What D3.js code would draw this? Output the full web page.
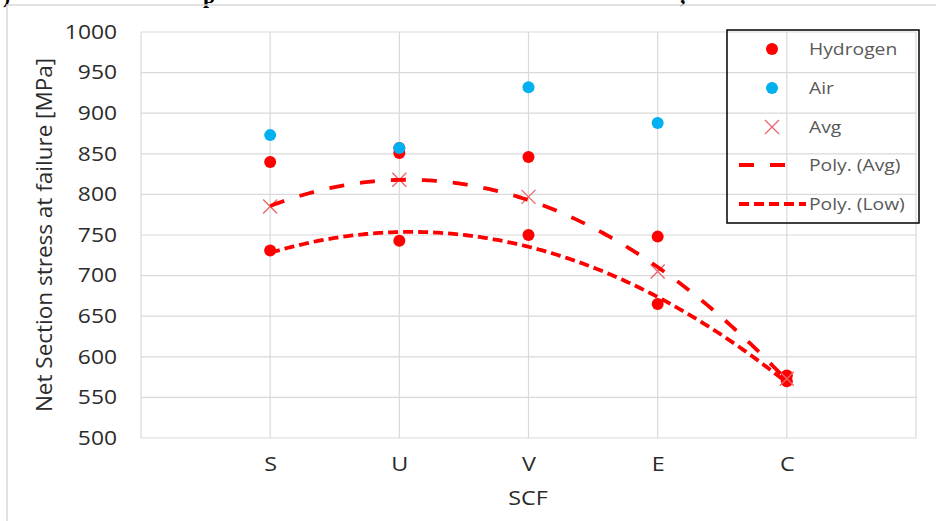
<!DOCTYPE html>
<html>
<head>
<meta charset="utf-8">
<script src="https://cdn.jsdelivr.net/npm/d3@7"></script>
<style>
  html, body { margin: 0; padding: 0; background: #fff; }
  svg { display: block; }
</style>
</head>
<body>
<svg id="chart" width="936" height="521"></svg>
<script>
// ---- data ----
const categories = ["S", "U", "V", "E", "C"];
const yTicks = [500, 550, 600, 650, 700, 750, 800, 850, 900, 950, 1000];
// hydrogen tests, several specimens per notch type
const hydrogen = [
  [840, 731],
  [857, 851, 743],
  [846, 750],
  [748, 665],
  [577, 570]
];
const air = [873, 857, 932, 888];
const avg = [785, 818, 797, 705, 573];

// ---- layout ----
const W = 936, H = 521;
const plot = { left: 141, right: 916, top: 32, bottom: 438 };
const TX = 1.17; // horizontal text stretch
const svg = d3.select("#chart");

const x = d3.scaleLinear().domain([0, 6]).range([plot.left, plot.right]);
const y = d3.scaleLinear().domain([500, 1000]).range([plot.bottom, plot.top]);

function stretch(sel) {
  sel.each(function () {
    const t = d3.select(this);
    const xv = +t.attr("x") || 0;
    t.attr("x", xv / TX).attr("transform", `scale(${TX},1)`);
  });
}

// caption line above the chart, clipped by the page edge
const capFont = "'Liberation Serif', 'DejaVu Serif', serif";
[[")", 3], ["p", 203], [",", 680]].forEach(([ch, px]) => {
  svg.append("text").attr("x", px).attr("y", 2.5)
    .attr("font-family", capFont).attr("font-weight", "bold")
    .attr("font-size", 22).attr("fill", "#000").text(ch);
});

// chart area border
svg.append("rect").attr("x", 7).attr("y", 5)
  .attr("width", W + 20).attr("height", H + 20)
  .attr("fill", "none").attr("stroke", "#d9d9d9").attr("stroke-width", 1.5);

// gridlines
const grid = svg.append("g").attr("stroke", "#d9d9d9").attr("stroke-width", 1.2);
yTicks.forEach(v => {
  grid.append("line").attr("x1", plot.left).attr("x2", plot.right)
    .attr("y1", y(v)).attr("y2", y(v));
});
d3.range(0, 7).forEach(i => {
  grid.append("line").attr("x1", x(i)).attr("x2", x(i))
    .attr("y1", plot.top).attr("y2", plot.bottom);
});

const font = "'Open Sans', 'Noto Sans', sans-serif";
const TXT = "#2b2b2b";

// y axis
const yAxis = svg.append("g").attr("transform", `translate(${plot.left},0)`)
  .call(d3.axisLeft(y).tickValues(yTicks).tickSize(0).tickPadding(24).tickFormat(d3.format("d")));
yAxis.select(".domain").remove();
yAxis.selectAll("text").attr("font-family", font).attr("font-size", 19.5)
  .attr("fill", TXT).call(stretch);

// x axis
const xAxis = svg.append("g").attr("transform", `translate(0,${plot.bottom})`)
  .call(d3.axisBottom(x).tickValues([1, 2, 3, 4, 5]).tickSize(0).tickPadding(19)
    .tickFormat(d => categories[d - 1]));
xAxis.select(".domain").remove();
xAxis.selectAll("text").attr("font-family", font).attr("font-size", 20)
  .attr("fill", TXT).call(stretch);

// axis titles
svg.append("text")
  .attr("transform", `translate(52,235) rotate(-90)`)
  .attr("text-anchor", "middle")
  .attr("font-family", font).attr("font-size", 22.5).attr("fill", TXT)
  .text("Net Section stress at failure [MPa]");
svg.append("text")
  .attr("transform", `translate(528,505) scale(${TX},1)`)
  .attr("text-anchor", "middle")
  .attr("font-family", font).attr("font-size", 20).attr("fill", TXT)
  .text("SCF");

// ---- markers ----
const RED = "#ff0000", BLUE = "#00b0f0", XCOL = "#e8656a";
const R = 6;
const hPts = hydrogen.flatMap((vals, i) => vals.map(v => ({ i: i + 1, v })));
svg.append("g").selectAll("circle").data(hPts).join("circle")
  .attr("cx", d => x(d.i)).attr("cy", d => y(d.v)).attr("r", R).attr("fill", RED);
svg.append("g").selectAll("circle").data(air).join("circle")
  .attr("cx", (d, i) => x(i + 1)).attr("cy", d => y(d)).attr("r", R).attr("fill", BLUE);

function cross(g, cx, cy, s) {
  g.append("path")
    .attr("d", `M${cx - s},${cy - s}L${cx + s},${cy + s}M${cx - s},${cy + s}L${cx + s},${cy - s}`)
    .attr("stroke", XCOL).attr("stroke-width", 1.3).attr("fill", "none");
}
const gAvg = svg.append("g");
avg.forEach((v, i) => cross(gAvg, x(i + 1), y(v), 7));

// ---- quadratic trendlines (least squares) ----
function polyFit2(xs, ys) {
  const n = xs.length;
  const s = k => d3.sum(xs, xv => Math.pow(xv, k));
  const sy = k => d3.sum(xs, (xv, j) => Math.pow(xv, k) * ys[j]);
  const A = [[n, s(1), s(2)], [s(1), s(2), s(3)], [s(2), s(3), s(4)]];
  const b = [sy(0), sy(1), sy(2)];
  // gaussian elimination
  for (let c = 0; c < 3; c++) {
    for (let r = c + 1; r < 3; r++) {
      const f = A[r][c] / A[c][c];
      for (let k = c; k < 3; k++) A[r][k] -= f * A[c][k];
      b[r] -= f * b[c];
    }
  }
  const coef = [0, 0, 0];
  for (let r = 2; r >= 0; r--) {
    let acc = b[r];
    for (let k = r + 1; k < 3; k++) acc -= A[r][k] * coef[k];
    coef[r] = acc / A[r][r];
  }
  return xv => coef[0] + coef[1] * xv + coef[2] * xv * xv;
}
const xs = [1, 2, 3, 4, 5];
const low = hydrogen.map(v => d3.min(v));
const fAvg = polyFit2(xs, avg);
const fLow = polyFit2(xs, low);
const samples = d3.range(1, 5.0001, 0.02);
const line = d3.line().x(d => x(d[0])).y(d => y(d[1])).curve(d3.curveLinear);

const DASH_AVG = "15,16", DASH_LOW = "10,5";
svg.append("path").datum(samples.map(t => [t, fAvg(t)])).attr("d", line)
  .attr("fill", "none").attr("stroke", RED).attr("stroke-width", 3.8)
  .attr("stroke-dasharray", DASH_AVG);
svg.append("path").datum(samples.map(t => [t, fLow(t)])).attr("d", line)
  .attr("fill", "none").attr("stroke", RED).attr("stroke-width", 3.8)
  .attr("stroke-dasharray", DASH_LOW);

// ---- legend ----
const leg = svg.append("g");
leg.append("rect").attr("x", 727).attr("y", 30).attr("width", 192).attr("height", 193)
  .attr("fill", "none").attr("stroke", "#000").attr("stroke-width", 1.5);
const legendItems = [
  { label: "Hydrogen", type: "dot", color: RED },
  { label: "Air", type: "dot", color: BLUE },
  { label: "Avg", type: "cross" },
  { label: "Poly. (Avg)", type: "line", dash: DASH_AVG, end: 787 },
  { label: "Poly. (Low)", type: "line", dash: DASH_LOW, end: 806 }
];
const rowY = [49, 88, 127, 165, 204];
legendItems.forEach((it, k) => {
  const cy = rowY[k];
  if (it.type === "dot") {
    leg.append("circle").attr("cx", 772).attr("cy", cy).attr("r", R).attr("fill", it.color);
  } else if (it.type === "cross") {
    cross(leg, 772, cy, 7);
  } else {
    leg.append("line").attr("x1", 739).attr("x2", it.end).attr("y1", cy).attr("y2", cy)
      .attr("stroke", RED).attr("stroke-width", 3.8).attr("stroke-dasharray", it.dash);
  }
  leg.append("text").attr("x", 809).attr("y", cy).attr("dy", "0.35em")
    .attr("font-family", font).attr("font-size", 16.5).attr("fill", "#595959")
    .text(it.label).call(stretch);
});
</script>
</body>
</html>
